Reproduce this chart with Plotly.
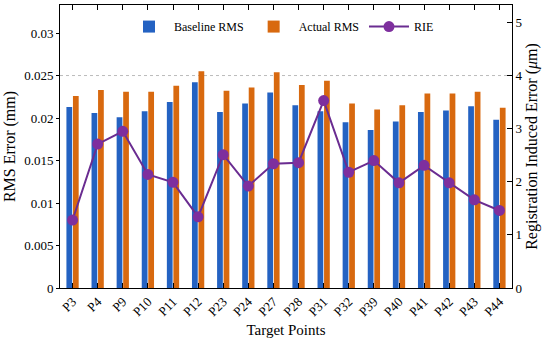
import plotly.graph_objects as go

categories = ["P3", "P4", "P9", "P10", "P11", "P12", "P23", "P24", "P27", "P28",
              "P31", "P32", "P39", "P40", "P41", "P42", "P43", "P44"]
baseline_rms = [0.0213, 0.0206, 0.0201, 0.0208, 0.0219, 0.0242, 0.0207, 0.0217, 0.0230, 0.0215,
                0.0208, 0.0195, 0.0186, 0.0196, 0.0207, 0.0209, 0.0214, 0.0198]
actual_rms = [0.0226, 0.0233, 0.0231, 0.0231, 0.0238, 0.0255, 0.0232, 0.0236, 0.0254, 0.0239,
              0.0244, 0.0217, 0.0210, 0.0215, 0.0229, 0.0229, 0.0231, 0.0212]
rie = [1.28, 2.71, 2.95, 2.14, 1.99, 1.34, 2.51, 1.92, 2.34, 2.36,
       3.53, 2.18, 2.40, 1.98, 2.31, 1.98, 1.66, 1.46]

font_family = "Liberation Serif, Times New Roman, serif"

fig = go.Figure()
fig.add_trace(go.Bar(x=categories, y=baseline_rms, name="Baseline RMS",
                     marker=dict(color="#2462C2", line=dict(width=0))))
fig.add_trace(go.Bar(x=categories, y=actual_rms, name="Actual RMS",
                     marker=dict(color="#D8690F", line=dict(width=0))))
fig.add_trace(go.Scatter(x=categories, y=rie, name="RIE", yaxis="y2",
                         mode="lines+markers",
                         line=dict(color="#6A2C91", width=2),
                         marker=dict(color="#7E2F9E", size=11)))

fig.add_shape(type="line", xref="paper", yref="y", x0=0, x1=1, y0=0.025, y1=0.025,
              line=dict(color="#BBBBBB", width=1, dash="dot"), layer="below")

fig.update_layout(
    width=550, height=343,
    margin=dict(l=60, r=38, t=5, b=55, autoexpand=False),
    paper_bgcolor="white", plot_bgcolor="white",
    font=dict(family=font_family, size=13, color="black"),
    barmode="group", bargap=0.48, bargroupgap=0.12,
    showlegend=True,
    legend=dict(orientation="h", x=0.49, xanchor="center", y=0.975, yanchor="top",
                bgcolor="rgba(0,0,0,0)", font=dict(size=12, family=font_family),
                itemwidth=40, tracegroupgap=0),
    xaxis=dict(title=dict(text="Target Points", font=dict(size=15), standoff=6),
               automargin=False, range=[-0.5, len(categories) - 0.5],
               tickangle=-45, showline=True, linecolor="black", linewidth=1,
               mirror="ticks", ticks="inside", ticklen=5, tickcolor="black",
               showgrid=False, tickfont=dict(size=13)),
    yaxis=dict(title=dict(text="RMS Error (mm)", font=dict(size=16), standoff=4),
               automargin=False,
               range=[0, 0.0333], tickvals=[0, 0.005, 0.01, 0.015, 0.02, 0.025, 0.03],
               ticktext=["0", "0.005", "0.01", "0.015", "0.02", "0.025", "0.03"],
               showline=True, linecolor="black", linewidth=1, ticks="outside",
               ticklen=3, tickcolor="black", showgrid=False, zeroline=False,
               tickfont=dict(size=13)),
    yaxis2=dict(title=dict(text="Registration Induced Error (<i>μ</i>m)", font=dict(size=16), standoff=2),
                automargin=False,
                overlaying="y", side="right", range=[0, 5.33],
                tickvals=[0, 1, 2, 3, 4, 5],
                showline=True, linecolor="black", linewidth=1, ticks="inside",
                ticklen=5, tickcolor="black", showgrid=False, zeroline=False,
                tickfont=dict(size=13)),
)

fig.write_html("out.html", config={"displayModeBar": False},
               post_script="document.body.style.margin='0';document.body.style.overflow='hidden';")
